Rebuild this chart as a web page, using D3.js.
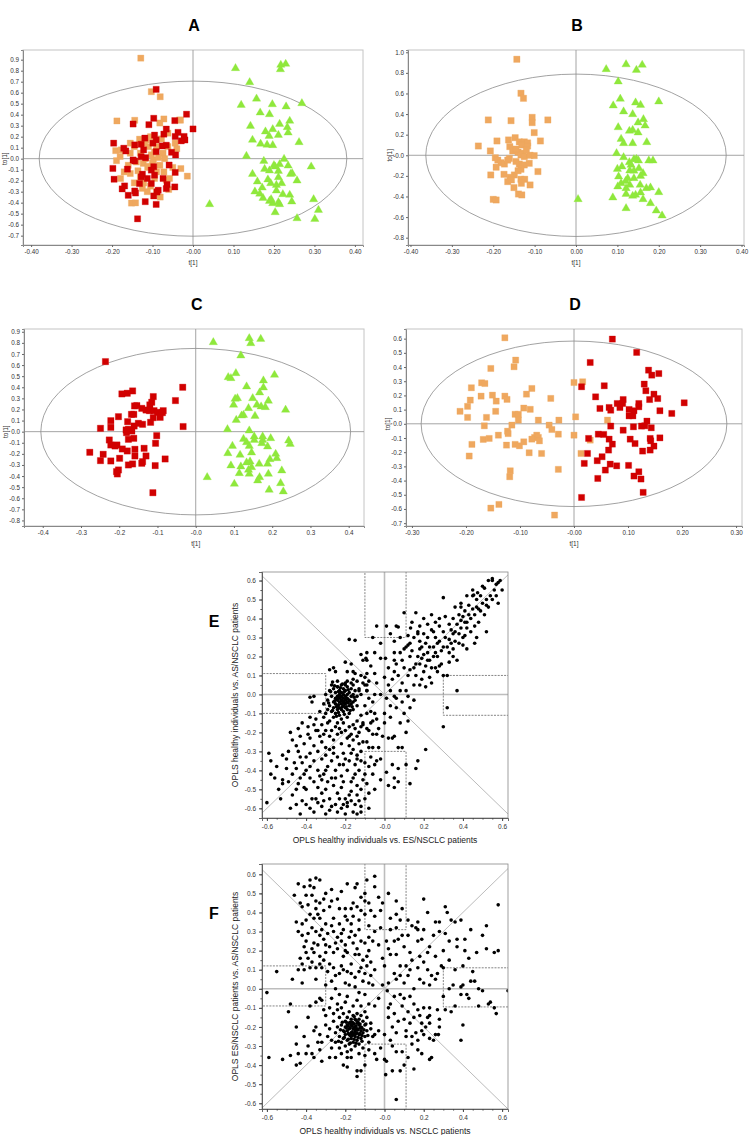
<!DOCTYPE html>
<html><head><meta charset="utf-8">
<script src="https://cdn.jsdelivr.net/npm/d3@7"></script>
<style>body{margin:0;background:#fff;}svg{display:block;font-family:"Liberation Sans",Arial,sans-serif;}</style>
</head><body><svg id="c" width="749" height="1135"></svg>
<script>
// ---------- DATA ----------
const tickAB_x = [-0.4,-0.3,-0.2,-0.1,0,0.1,0.2,0.3,0.4];
const labelA_x = ["-0.40","-0.30","-0.20","-0.10","-0.00","0.10","0.20","0.30","0.40"];
const labelB_x = ["-0.40","-0.30","-0.20","-0.10","0.00","0.10","0.20","0.30","0.40"];
const tickA_y = [0.9,0.8,0.7,0.6,0.5,0.4,0.3,0.2,0.1,0,-0.1,-0.2,-0.3,-0.4,-0.5,-0.6,-0.7];
const labelA_y = ["0.9","0.8","0.7","0.6","0.5","0.4","0.3","0.2","0.1","0.0","-0.1","-0.2","-0.3","-0.4","-0.5","-0.6","-0.7"];
const tickB_y = [1.0,0.8,0.6,0.4,0.2,0,-0.2,-0.4,-0.6,-0.8];
const labelB_y = ["1.0","0.8","0.6","0.4","0.2","-0.0","-0.2","-0.4","-0.6","-0.8"];
const tickC_x = [-0.4,-0.3,-0.2,-0.1,0,0.1,0.2,0.3,0.4];
const labelC_x = ["-0.4","-0.3","-0.2","-0.1","-0.0","0.1","0.2","0.3","0.4"];
const tickC_y = [0.9,0.8,0.7,0.6,0.5,0.4,0.3,0.2,0.1,0,-0.1,-0.2,-0.3,-0.4,-0.5,-0.6,-0.7,-0.8];
const labelC_y = ["0.9","0.8","0.7","0.6","0.5","0.4","0.3","0.2","0.1","0.0","-0.1","-0.2","-0.3","-0.4","-0.5","-0.6","-0.7","-0.8"];
const tickD_x = [-0.3,-0.2,-0.1,0,0.1,0.2,0.3];
const labelD_x = ["-0.30","-0.20","-0.10","-0.00","0.10","0.20","0.30"];
const tickD_y = [0.6,0.5,0.4,0.3,0.2,0.1,0,-0.1,-0.2,-0.3,-0.4,-0.5,-0.6,-0.7];
const labelD_y = ["0.6","0.5","0.4","0.3","0.2","0.1","0.0","-0.1","-0.2","-0.3","-0.4","-0.5","-0.6","-0.7"];
const tickEF_x = [-0.6,-0.4,-0.2,0,0.2,0.4,0.6];
const labelEF_x = ["-0.6","-0.4","-0.2","-0.0","0.2","0.4","0.6"];
const tickEF_y = [0.6,0.5,0.4,0.3,0.2,0.1,0,-0.1,-0.2,-0.3,-0.4,-0.5,-0.6];
const labelEF_y = ["0.6","0.5","0.4","0.3","0.2","0.1","0.0","-0.1","-0.2","-0.3","-0.4","-0.5","-0.6"];
const minorEF = [-0.6,-0.55,-0.5,-0.45,-0.4,-0.35,-0.3,-0.25,-0.2,-0.15,-0.1,-0.05,0,0.05,0.1,0.15,0.2,0.25,0.3,0.35,0.4,0.45,0.5,0.55,0.6];

const aOrange = [[-0.129,0.914],[-0.103,0.609],[-0.081,0.563],[-0.188,0.343],[-0.144,0.349],[-0.072,0.361],[-0.033,0.352],[-0.082,0.324],[-0.031,0.35],[-0.155,0.141],[-0.191,0.073],[-0.177,0.08],[-0.132,0.177],[-0.115,0.171],[-0.11,0.11],[-0.189,-0.018],[-0.179,-0.18],[-0.155,-0.135],[-0.136,-0.11],[-0.123,-0.043],[-0.11,-0.07],[-0.098,-0.01],[-0.082,-0.06],[-0.152,-0.404],[-0.142,-0.402],[-0.081,-0.349],[-0.09,-0.3],[-0.014,-0.159],[-0.044,0.141],[-0.062,0.232],[-0.066,-0.195],[-0.058,-0.18],[-0.122,-0.22],[-0.105,-0.25],[-0.113,-0.3],[-0.09,-0.12],[-0.072,-0.12],[-0.13,0.05],[-0.103,0.035],[-0.09,0.11],[-0.074,0.05],[-0.062,0.11],[-0.14,-0.03],[-0.118,0],[-0.1,-0.04],[-0.085,0.01],[-0.16,-0.06],[-0.17,-0.12],[-0.04,0.09],[-0.05,-0.08],[-0.13,-0.17],[-0.095,-0.18],[-0.06,-0.28],[-0.125,-0.27],[-0.145,-0.22],[-0.105,0.2],[-0.078,0.18],[-0.155,0.05],[-0.145,0.11],[-0.03,-0.09],[-0.112,-0.08],[-0.095,0.06],[-0.12,0.14],[-0.07,0],[-0.18,0.02]];
const aRed = [[-0.091,0.63],[-0.016,0.404],[0.0,0.27],[-0.02,0.17],[-0.097,0.367],[-0.148,0.315],[-0.109,0.309],[-0.045,0.346],[-0.066,0.269],[-0.095,0.214],[-0.072,0.223],[-0.037,0.239],[-0.044,0.202],[-0.022,0.202],[-0.029,0.162],[-0.119,0.187],[-0.196,0.141],[-0.171,0.095],[-0.166,0.07],[-0.144,0.125],[-0.128,0.131],[-0.099,0.141],[-0.091,0.171],[-0.076,0.116],[-0.066,0.122],[-0.122,0.08],[-0.091,0.064],[-0.053,0.058],[-0.043,0.034],[-0.128,0.018],[-0.117,0.009],[-0.148,-0.012],[-0.144,-0.021],[-0.198,-0.089],[-0.162,-0.095],[-0.103,-0.104],[-0.097,-0.073],[-0.059,-0.058],[-0.195,-0.187],[-0.125,-0.141],[-0.128,-0.165],[-0.113,-0.18],[-0.095,-0.15],[-0.074,-0.18],[-0.044,-0.125],[-0.169,-0.248],[-0.175,-0.275],[-0.144,-0.294],[-0.132,-0.226],[-0.103,-0.226],[-0.086,-0.287],[-0.064,-0.235],[-0.066,-0.272],[-0.045,-0.257],[-0.16,-0.333],[-0.142,-0.312],[-0.097,-0.339],[-0.089,-0.303],[-0.118,-0.391],[-0.091,-0.416],[-0.137,-0.547]];
const aGreen = [[0.105,0.822],[0.217,0.852],[0.229,0.861],[0.216,0.812],[0.14,0.694],[0.157,0.545],[0.119,0.488],[0.196,0.494],[0.23,0.473],[0.269,0.503],[0.166,0.418],[0.189,0.403],[0.239,0.343],[0.142,0.297],[0.214,0.315],[0.233,0.285],[0.179,0.246],[0.197,0.267],[0.188,0.206],[0.211,0.215],[0.235,0.236],[0.147,0.17],[0.167,0.134],[0.183,0.125],[0.197,0.122],[0.262,0.149],[0.132,0.024],[0.175,-0.021],[0.225,-0.003],[0.214,-0.051],[0.203,-0.073],[0.235,-0.064],[0.292,-0.073],[0.177,-0.094],[0.189,-0.109],[0.211,-0.112],[0.147,-0.14],[0.211,-0.17],[0.241,-0.14],[0.245,-0.134],[0.257,-0.2],[0.159,-0.209],[0.192,-0.224],[0.206,-0.24],[0.219,-0.224],[0.171,-0.264],[0.153,-0.3],[0.206,-0.291],[0.173,-0.358],[0.222,-0.324],[0.239,-0.33],[0.244,-0.391],[0.189,-0.385],[0.197,-0.406],[0.211,-0.397],[0.214,-0.415],[0.298,-0.37],[0.203,-0.488],[0.31,-0.467],[0.257,-0.543],[0.301,-0.549],[0.041,-0.415],[0.193,-0.37],[0.165,-0.32],[0.2,-0.06],[0.185,-0.19]];

const bOrange = [[-0.143,0.932],[-0.133,0.602],[-0.127,0.553],[-0.212,0.343],[-0.157,0.336],[-0.106,0.368],[-0.106,0.317],[-0.068,0.343],[-0.101,0.22],[-0.236,0.09],[-0.191,0.139],[-0.163,0.149],[-0.147,0.171],[-0.086,0.139],[-0.137,0.13],[-0.125,0.13],[-0.117,0.12],[-0.16,0.084],[-0.131,0.1],[-0.117,0.09],[-0.207,0.042],[-0.153,0.042],[-0.14,0.03],[-0.128,0.02],[-0.195,-0.024],[-0.189,-0.047],[-0.181,-0.072],[-0.173,-0.085],[-0.165,-0.047],[-0.161,-0.031],[-0.133,0.003],[-0.125,-0.013],[-0.111,0.0],[-0.101,-0.003],[-0.193,-0.116],[-0.137,-0.085],[-0.125,-0.094],[-0.113,-0.078],[-0.206,-0.191],[-0.174,-0.185],[-0.092,-0.158],[-0.133,-0.136],[-0.149,-0.191],[-0.159,-0.214],[-0.165,-0.256],[-0.156,-0.239],[-0.133,-0.233],[-0.124,-0.233],[-0.132,-0.272],[-0.15,-0.314],[-0.111,-0.288],[-0.139,-0.376],[-0.131,-0.385],[-0.2,-0.428],[-0.193,-0.434],[-0.145,0.06],[-0.12,0.05],[-0.145,-0.06],[-0.14,-0.15]];
const bGreen = [[0.073,0.835],[0.121,0.882],[0.146,0.828],[0.16,0.877],[0.102,0.715],[0.107,0.547],[0.09,0.482],[0.144,0.511],[0.156,0.488],[0.2,0.521],[0.115,0.424],[0.137,0.398],[0.15,0.317],[0.163,0.349],[0.167,0.287],[0.102,0.271],[0.129,0.236],[0.137,0.245],[0.15,0.22],[0.109,0.158],[0.115,0.116],[0.137,0.116],[0.171,0.126],[0.098,0.019],[0.115,-0.02],[0.129,-0.068],[0.146,-0.036],[0.151,-0.052],[0.176,-0.052],[0.186,-0.052],[0.1,-0.133],[0.111,-0.11],[0.133,-0.094],[0.13,-0.149],[0.152,-0.126],[0.162,-0.175],[0.103,-0.207],[0.125,-0.223],[0.14,-0.223],[0.156,-0.201],[0.109,-0.272],[0.13,-0.288],[0.155,-0.288],[0.101,-0.304],[0.121,-0.32],[0.17,-0.32],[0.18,-0.314],[0.2,-0.359],[0.089,-0.411],[0.121,-0.376],[0.137,-0.395],[0.144,-0.385],[0.156,-0.363],[0.162,-0.427],[0.18,-0.466],[0.121,-0.515],[0.194,-0.538],[0.208,-0.586],[0.005,-0.427],[0.14,-0.04],[0.12,-0.25],[0.14,-0.15]];

const cRed = [[-0.236,0.631],[-0.034,0.4],[-0.033,0.046],[-0.053,0.28],[-0.193,0.34],[-0.179,0.346],[-0.165,0.367],[-0.111,0.316],[-0.115,0.265],[-0.12,0.241],[-0.16,0.232],[-0.154,0.235],[-0.141,0.21],[-0.13,0.195],[-0.121,0.189],[-0.109,0.189],[-0.1,0.174],[-0.085,0.189],[-0.087,0.171],[-0.168,0.156],[-0.162,0.156],[-0.093,0.129],[-0.111,0.126],[-0.202,0.135],[-0.222,0.099],[-0.178,0.09],[-0.118,0.084],[-0.15,0.075],[-0.139,0.066],[-0.161,0.051],[-0.249,0.03],[-0.222,0.039],[-0.182,0.015],[-0.176,0.021],[-0.167,0.006],[-0.181,-0.009],[-0.102,-0.036],[-0.176,-0.069],[-0.162,-0.06],[-0.226,-0.075],[-0.105,-0.105],[-0.222,-0.12],[-0.211,-0.129],[-0.206,-0.12],[-0.192,-0.156],[-0.179,-0.174],[-0.159,-0.159],[-0.135,-0.15],[-0.277,-0.186],[-0.242,-0.204],[-0.199,-0.24],[-0.159,-0.219],[-0.13,-0.219],[-0.08,-0.246],[-0.249,-0.261],[-0.222,-0.264],[-0.176,-0.3],[-0.165,-0.291],[-0.141,-0.285],[-0.139,-0.27],[-0.106,-0.306],[-0.202,-0.345],[-0.205,-0.381],[-0.207,-0.36],[-0.112,-0.55]];
const cGreen = [[0.046,0.805],[0.14,0.841],[0.144,0.796],[0.17,0.835],[0.118,0.685],[0.085,0.49],[0.092,0.481],[0.105,0.526],[0.206,0.511],[0.177,0.46],[0.133,0.406],[0.177,0.397],[0.167,0.352],[0.103,0.295],[0.109,0.301],[0.149,0.301],[0.19,0.277],[0.099,0.241],[0.16,0.241],[0.171,0.226],[0.182,0.22],[0.138,0.211],[0.235,0.196],[0.12,0.144],[0.125,0.15],[0.155,0.141],[0.106,0.105],[0.083,0.021],[0.14,0.009],[0.125,-0.066],[0.153,-0.045],[0.153,-0.075],[0.175,-0.045],[0.175,-0.075],[0.196,-0.06],[0.133,-0.096],[0.14,-0.129],[0.173,-0.105],[0.188,-0.135],[0.243,-0.081],[0.247,-0.111],[0.096,-0.129],[0.084,-0.195],[0.116,-0.21],[0.146,-0.189],[0.209,-0.201],[0.212,-0.24],[0.194,-0.249],[0.133,-0.279],[0.142,-0.27],[0.166,-0.291],[0.188,-0.291],[0.092,-0.306],[0.118,-0.315],[0.146,-0.321],[0.225,-0.351],[0.114,-0.375],[0.14,-0.381],[0.19,-0.381],[0.167,-0.411],[0.162,-0.441],[0.222,-0.465],[0.101,-0.471],[0.03,-0.411],[0.192,-0.525],[0.229,-0.54],[0.138,-0.345]];

const dOrange = [[-0.128,0.606],[-0.108,0.449],[-0.111,0.402],[-0.154,0.39],[-0.171,0.289],[-0.165,0.284],[-0.078,0.249],[-0.19,0.254],[-0.088,0.209],[-0.172,0.195],[-0.151,0.202],[-0.128,0.195],[-0.144,0.16],[-0.124,0.172],[-0.192,0.167],[-0.043,0.179],[-0.211,0.088],[-0.197,0.123],[-0.145,0.088],[-0.093,0.111],[-0.081,0.102],[-0.109,0.067],[-0.103,0.067],[-0.197,0.045],[-0.162,0.045],[-0.103,0.026],[-0.066,0.026],[-0.028,0.026],[-0.166,-0.014],[-0.115,-0.009],[-0.046,-0.009],[-0.041,-0.04],[-0.123,-0.052],[-0.122,-0.069],[-0.029,-0.073],[-0.168,-0.11],[-0.157,-0.103],[-0.14,-0.08],[-0.069,-0.08],[-0.073,-0.096],[-0.066,-0.096],[-0.078,-0.108],[-0.064,-0.12],[-0.189,-0.145],[-0.125,-0.15],[-0.109,-0.145],[-0.101,-0.155],[-0.093,-0.127],[-0.194,-0.227],[-0.083,-0.204],[-0.06,-0.209],[-0.118,-0.331],[-0.029,-0.321],[-0.119,-0.373],[-0.154,-0.594],[-0.139,-0.568],[-0.036,-0.643],[0.0,0.291],[0.016,0.296],[0.003,0.049],[0.062,0.026],[0.0,-0.08],[0.03,-0.115],[0.013,-0.209]];
const dRed = [[0.071,0.597],[0.116,0.503],[0.03,0.432],[0.138,0.378],[0.144,0.343],[0.157,0.354],[0.014,0.261],[0.056,0.268],[0.13,0.28],[0.133,0.233],[0.148,0.209],[0.155,0.178],[0.14,0.171],[0.04,0.19],[0.204,0.148],[0.08,0.143],[0.085,0.115],[0.091,0.171],[0.09,0.143],[0.12,0.143],[0.12,0.12],[0.048,0.108],[0.065,0.115],[0.068,0.096],[0.102,0.101],[0.111,0.092],[0.159,0.092],[0.181,0.073],[0.102,0.056],[0.109,0.056],[0.135,0.019],[0.125,-0.016],[0.131,-0.014],[0.143,-0.028],[0.068,-0.016],[0.11,-0.021],[0.091,-0.045],[0.045,-0.073],[0.055,-0.075],[0.027,-0.103],[0.065,-0.108],[0.104,-0.108],[0.141,-0.103],[0.159,-0.099],[0.142,-0.12],[0.113,-0.139],[0.071,-0.143],[0.148,-0.157],[0.064,-0.185],[0.141,-0.185],[0.127,-0.192],[0.025,-0.209],[0.052,-0.232],[0.043,-0.26],[0.019,-0.279],[0.067,-0.284],[0.079,-0.296],[0.101,-0.293],[0.058,-0.326],[0.12,-0.338],[0.111,-0.368],[0.124,-0.389],[0.044,-0.385],[0.128,-0.483],[0.014,-0.519]];

const ePoints = [
[-0.30,0.00],[-0.29,-0.03],[-0.28,0.02],[-0.28,-0.06],[-0.27,-0.01],[-0.27,-0.09],[-0.26,0.03],[-0.26,-0.04],[-0.26,-0.07],[-0.25,0.01],[-0.25,-0.02],[-0.25,-0.05],[-0.25,-0.10],[-0.24,0.04],[-0.24,-0.01],[-0.24,-0.03],[-0.24,-0.06],[-0.24,-0.08],[-0.23,0.02],[-0.23,0.00],[-0.23,-0.02],[-0.23,-0.04],[-0.23,-0.07],[-0.23,-0.11],[-0.22,0.05],[-0.22,0.01],[-0.22,-0.01],[-0.22,-0.03],[-0.22,-0.05],[-0.22,-0.08],[-0.21,0.03],[-0.21,0.00],[-0.21,-0.02],[-0.21,-0.04],[-0.21,-0.06],[-0.21,-0.09],[-0.20,0.02],[-0.20,-0.01],[-0.20,-0.03],[-0.20,-0.05],[-0.20,-0.07],[-0.19,0.04],[-0.19,0.00],[-0.19,-0.02],[-0.19,-0.04],[-0.19,-0.08],[-0.18,0.01],[-0.18,-0.03],[-0.18,-0.06],[-0.18,-0.10],[-0.17,0.03],[-0.17,-0.01],[-0.17,-0.05],[-0.16,0.00],[-0.16,-0.04],[-0.16,-0.08],[-0.15,0.02],[-0.15,-0.03],[-0.14,-0.01],[-0.14,-0.06],[-0.27,0.05],[-0.29,-0.08],[-0.31,-0.05],[-0.26,-0.12],[-0.22,-0.13],[-0.19,-0.12],[-0.24,0.07],[-0.20,0.06],[-0.17,0.06],[-0.13,0.02],[-0.215,-0.035],[-0.225,-0.015],[-0.205,-0.045],[-0.235,-0.055],[-0.195,-0.025],[-0.245,-0.025],[-0.215,-0.065],[-0.185,-0.045],[-0.255,-0.035],[-0.235,0.015],
[-0.285,-0.045],[-0.275,0.015],[-0.265,-0.085],[-0.255,0.045],[-0.245,-0.065],[-0.235,-0.095],[-0.225,0.035],[-0.205,0.015],[-0.195,-0.065],[-0.185,0.025],[-0.175,-0.035],[-0.165,-0.065],[-0.155,-0.015],[-0.175,-0.085],[-0.205,-0.105],[-0.245,-0.115],[-0.215,0.055],[-0.265,0.065],[-0.30,-0.10],[-0.16,0.05],
[-0.14,-0.14],[-0.13,-0.20],[-0.12,-0.11],[-0.11,-0.25],[-0.12,-0.30],[-0.10,-0.06],[-0.09,-0.18],[-0.08,-0.28],[-0.07,-0.09],[-0.06,-0.21],[-0.15,-0.18],[-0.13,-0.26],[-0.14,-0.34],[-0.10,-0.36],[-0.07,-0.15],[-0.06,-0.04],[-0.05,-0.10],[-0.09,0.05],[-0.12,0.00],[-0.08,-0.02],[-0.11,-0.16],[-0.16,-0.16],[-0.17,-0.21],[-0.18,-0.17],[-0.20,-0.19],[-0.21,-0.15],[-0.23,-0.18],[-0.25,-0.17],[-0.26,-0.24],[-0.30,-0.19],[-0.31,-0.12],[-0.33,-0.09],[-0.32,-0.16],[-0.35,-0.19],
[-0.18,0.29],[-0.15,0.285],[-0.12,0.21],[-0.09,0.22],[-0.11,0.18],[-0.095,0.19],[-0.20,0.17],[-0.17,0.16],[-0.25,0.12],[-0.26,0.14],[-0.28,0.13],[-0.19,0.12],[-0.16,0.12],[-0.15,0.11],[-0.12,0.10],[-0.09,0.11],[-0.08,0.07],[-0.14,0.07],[-0.11,0.06],[-0.16,0.08],[-0.19,0.07],[-0.20,0.05],[-0.24,0.04],[-0.13,0.03],[-0.09,0.02],
[-0.38,-0.015],[-0.36,-0.01],[-0.37,-0.04],
[-0.38,-0.12],[-0.35,-0.13],[-0.39,-0.17],[-0.29,-0.15],[-0.28,-0.14],[-0.24,-0.15],[-0.48,-0.20],[-0.43,-0.22],[-0.39,-0.21],[-0.38,-0.23],[-0.34,-0.19],[-0.32,-0.25],[-0.28,-0.22],[-0.24,-0.21],[-0.22,-0.26],[-0.19,-0.23],[-0.16,-0.24],[-0.47,-0.24],[-0.44,-0.30],[-0.40,-0.33],[-0.38,-0.31],[-0.34,-0.30],[-0.32,-0.34],[-0.28,-0.29],[-0.24,-0.33],[-0.21,-0.31],[-0.16,-0.29],[-0.14,-0.32],[-0.59,-0.31],[-0.58,-0.35],[-0.52,-0.32],[-0.49,-0.30],[-0.50,-0.39],[-0.45,-0.39],[-0.42,-0.36],[-0.38,-0.38],[-0.34,-0.40],[-0.31,-0.42],[-0.29,-0.38],[-0.25,-0.40],[-0.22,-0.43],[-0.19,-0.40],[-0.15,-0.42],[-0.52,-0.45],[-0.52,-0.47],[-0.45,-0.50],[-0.43,-0.44],[-0.41,-0.42],[-0.40,-0.50],[-0.36,-0.46],[-0.34,-0.49],[-0.32,-0.45],[-0.30,-0.50],[-0.26,-0.48],[-0.24,-0.52],[-0.22,-0.49],[-0.20,-0.55],[-0.19,-0.57],[-0.17,-0.51],[-0.14,-0.53],[-0.12,-0.50],[-0.60,-0.57],[-0.43,-0.63],[-0.36,-0.62],[-0.32,-0.59],[-0.31,-0.56],[-0.28,-0.61],[-0.25,-0.58],[-0.24,-0.62],[-0.21,-0.58],[-0.19,-0.59],[-0.16,-0.62],[-0.15,-0.58],[-0.14,-0.63],[-0.12,-0.59],[-0.37,-0.55],[-0.40,-0.58],[-0.32,-0.52],[-0.45,-0.58],
[-0.27,-0.35],[-0.23,-0.37],[-0.18,-0.35],[-0.13,-0.40],[-0.11,-0.45],[-0.17,-0.46],[-0.27,-0.44],[-0.35,-0.55],[-0.28,-0.55],[-0.23,-0.55],[-0.18,-0.53],[-0.10,-0.55],[-0.12,-0.62],[-0.20,-0.63],[-0.30,-0.63],[-0.55,-0.38],[-0.47,-0.42],[-0.44,-0.47],[-0.36,-0.27],[-0.30,-0.28],[-0.26,-0.28],[-0.18,-0.27],[-0.45,-0.27],[-0.41,-0.26],[-0.33,-0.22],[-0.41,-0.49],[-0.47,-0.53],[-0.56,-0.44],
[-0.42,-0.15],[-0.44,-0.18],[-0.36,-0.16],[-0.31,-0.21],[-0.27,-0.19],[-0.22,-0.20],[-0.18,-0.22],[-0.14,-0.22],[-0.12,-0.17],[-0.09,-0.25],[-0.06,-0.28],[-0.03,-0.18],[0.00,-0.15],[0.03,-0.12],[0.08,-0.15],[0.11,-0.20],[0.12,-0.14],[-0.50,-0.34],[-0.46,-0.36],[-0.43,-0.33],[-0.36,-0.35],[-0.30,-0.32],[-0.26,-0.31],[-0.20,-0.34],[-0.17,-0.31],[-0.12,-0.35],[-0.08,-0.38],[-0.06,-0.42],[-0.02,-0.45],[0.02,-0.48],[-0.54,-0.50],[-0.49,-0.46],[-0.38,-0.44],[-0.33,-0.43],[-0.29,-0.46],[-0.25,-0.44],[-0.21,-0.46],[-0.16,-0.44],[-0.14,-0.48],[-0.08,-0.52],[-0.05,-0.50],[-0.48,-0.60],[-0.42,-0.56],[-0.38,-0.60],[-0.34,-0.57],[-0.27,-0.59],[-0.22,-0.60],[-0.17,-0.56],[-0.13,-0.56],[-0.08,-0.60],[-0.53,-0.55],[-0.58,-0.42],[-0.40,-0.40],[-0.30,-0.40],[-0.21,-0.37],[-0.15,-0.37],
[0.30,0.51],[0.39,0.46],[0.40,0.41],[0.42,0.38],[0.46,0.36],[0.47,0.30],[0.52,0.33],[0.37,0.37],[0.39,0.39],[0.35,0.32],[0.33,0.29],[0.34,0.27],[0.32,0.25],[0.29,0.23],[0.27,0.27],[0.25,0.20],[0.28,0.15],[0.26,0.14],[0.24,0.14],[0.22,0.18],[0.20,0.21],[0.18,0.24],[0.17,0.33],[0.16,0.43],[0.10,0.43],[0.30,0.10],[0.37,0.02],[0.32,-0.07],[0.30,-0.17],[0.21,-0.29],[0.17,-0.35],[0.16,-0.39],[0.13,-0.47],[0.11,-0.37],
[0.01,0.36],[0.06,0.36],[0.07,0.355],[-0.04,0.36],[0.133,0.35],[0.17,0.32],[0.13,0.27],[0.10,0.24],[0.05,0.22],[0.005,0.19],[-0.02,0.19],[-0.05,0.22],[-0.09,0.18],[0.06,0.16],[0.09,0.18],[0.05,0.12],[0.13,0.13],[0.16,0.10],[0.24,0.06],[0.21,0.04],[0.18,0.05],[0.11,0.02],[0.08,0.02],[0.05,-0.01],[0.01,-0.02],[-0.02,0.00],[-0.05,0.00],[-0.09,0.02],[-0.10,0.05],[-0.10,0.09],[-0.05,0.11],[0.00,0.09],[0.15,-0.03],[0.13,-0.07],[0.10,-0.10],[0.06,-0.07],[0.03,-0.06],[0.00,-0.10],[-0.04,-0.13],[-0.06,-0.14],[-0.09,-0.10],[-0.11,-0.15],[-0.08,-0.19],[-0.04,-0.21],[-0.01,-0.22],[0.02,-0.23],[0.04,-0.23],[0.05,-0.22],[0.07,-0.28],[0.09,-0.28],[-0.03,-0.28],[-0.07,-0.33],[-0.05,-0.37],[-0.04,-0.35],[-0.02,-0.34],[0.04,-0.37],[0.07,-0.39],[0.01,-0.41],[0.05,-0.44],[0.07,-0.46],[0.05,-0.49],[-0.10,-0.42],[-0.09,-0.47],
[0.05,0.28],[0.08,0.30],[0.12,0.26],[0.15,0.30],[0.18,0.28],[0.20,0.32],[0.22,0.30],[0.24,0.34],[0.26,0.30],[0.28,0.36],[0.30,0.33],[0.25,0.25],[0.22,0.22],[0.19,0.19],[0.16,0.16],[0.13,0.20],[0.10,0.14],[0.07,0.10],[0.04,0.08],[0.02,0.05],[0.20,0.12],[0.23,0.18],[0.27,0.20],[0.30,0.25],[0.33,0.22],[0.36,0.28],[0.38,0.32],[0.40,0.30],[0.42,0.35],[0.44,0.40],[0.46,0.42],[0.48,0.45],[0.50,0.48],[0.52,0.50],[0.54,0.52],[0.56,0.55],[0.57,0.58],[0.59,0.60],[0.55,0.60],[0.51,0.56],[0.49,0.52],[0.47,0.50],[0.43,0.47],[0.41,0.44],[0.38,0.42],[0.35,0.40],[0.33,0.37],[0.31,0.41],[0.28,0.40],[0.26,0.38],[0.24,0.42],[0.20,0.40],[0.36,0.46],[0.42,0.52],[0.45,0.55],[0.39,0.48],[0.48,0.38],[0.51,0.42],[0.53,0.46],[0.58,0.48],[0.60,0.55],[0.44,0.33],[0.40,0.26],[0.35,0.20],[0.46,0.27],[0.29,0.16],[0.32,0.10],[0.37,0.18],[0.42,0.24],
[0.53,0.60],[0.55,0.61],[0.50,0.57],[0.58,0.59],[0.45,0.52],[0.475,0.536],[0.455,0.524],
[0.02,0.14],[0.05,0.18],[0.08,0.22],[0.11,0.25],[0.14,0.23],[0.17,0.20],[0.19,0.25],[0.21,0.27],[0.23,0.25],[0.26,0.22],[0.28,0.28],[0.31,0.30],[0.34,0.34],[0.36,0.33],[0.39,0.35],[0.41,0.38],[0.43,0.42],[0.45,0.45],[0.47,0.46],[0.49,0.44],[0.52,0.47],[0.55,0.50],[0.57,0.52],[0.35,0.24],[0.38,0.27],[0.41,0.31],[0.33,0.17],[0.27,0.12],[0.23,0.09],[0.19,0.08],[0.15,0.05],[0.12,0.10],[0.09,0.06],[0.15,0.14],[0.18,0.16],[0.21,0.15],[0.12,0.31],[0.14,0.38],[0.18,0.36],[0.22,0.37],[0.25,0.33],[0.03,0.32],[-0.02,0.27],[-0.06,0.30],[-0.07,0.15],[-0.04,0.06],[0.03,0.02],[0.06,-0.02],[0.09,-0.04],[0.12,-0.01]
];

const fPoints = [
[-0.24,-0.20],[-0.23,-0.15],[-0.23,-0.25],[-0.22,-0.19],[-0.22,-0.28],[-0.21,-0.13],[-0.21,-0.22],[-0.21,-0.26],[-0.20,-0.17],[-0.20,-0.20],[-0.20,-0.24],[-0.20,-0.30],[-0.19,-0.15],[-0.19,-0.19],[-0.19,-0.22],[-0.19,-0.27],[-0.18,-0.12],[-0.18,-0.18],[-0.18,-0.21],[-0.18,-0.24],[-0.18,-0.29],[-0.17,-0.16],[-0.17,-0.19],[-0.17,-0.23],[-0.17,-0.26],[-0.17,-0.32],[-0.16,-0.14],[-0.16,-0.18],[-0.16,-0.21],[-0.16,-0.24],[-0.16,-0.28],[-0.15,-0.16],[-0.15,-0.20],[-0.15,-0.22],[-0.15,-0.25],[-0.15,-0.30],[-0.14,-0.13],[-0.14,-0.18],[-0.14,-0.21],[-0.14,-0.23],[-0.14,-0.27],[-0.13,-0.16],[-0.13,-0.19],[-0.13,-0.24],[-0.13,-0.29],[-0.12,-0.14],[-0.12,-0.20],[-0.12,-0.22],[-0.12,-0.26],[-0.11,-0.17],[-0.11,-0.23],[-0.11,-0.31],[-0.10,-0.19],[-0.10,-0.25],[-0.09,-0.15],[-0.09,-0.22],[-0.08,-0.28],[-0.25,-0.23],[-0.26,-0.17],[-0.27,-0.27],[-0.155,-0.205],[-0.165,-0.225],[-0.145,-0.235],[-0.175,-0.205],[-0.135,-0.215],[-0.155,-0.185],[-0.165,-0.245],[-0.145,-0.195],[-0.185,-0.235],[-0.125,-0.235],[-0.175,-0.175],[-0.135,-0.255],[-0.195,-0.205],[-0.155,-0.265],[-0.115,-0.205],[-0.205,-0.225],[-0.145,-0.165],[-0.165,-0.195],[-0.185,-0.265],[-0.125,-0.185],[-0.19,-0.33],[-0.13,-0.34],[-0.22,-0.34],[-0.10,-0.12],[-0.24,-0.11],[-0.28,-0.21],[-0.07,-0.18],[-0.06,-0.25],
[-0.215,-0.175],[-0.205,-0.255],[-0.195,-0.175],[-0.185,-0.195],[-0.175,-0.245],[-0.165,-0.175],[-0.155,-0.235],[-0.145,-0.215],[-0.135,-0.175],[-0.125,-0.205],[-0.115,-0.245],[-0.105,-0.215],[-0.175,-0.285],[-0.145,-0.285],[-0.115,-0.275],[-0.225,-0.215],[-0.235,-0.275],[-0.095,-0.185],[-0.085,-0.245],[-0.155,-0.145],
[-0.44,0.55],[-0.41,0.535],[-0.38,0.54],[-0.36,0.53],[-0.35,0.58],[-0.33,0.57],[-0.38,0.57],[-0.46,0.49],[-0.40,0.49],[-0.37,0.49],[-0.35,0.46],[-0.33,0.45],[-0.42,0.43],[-0.31,0.41],[-0.28,0.43],[-0.24,0.47],[-0.19,0.55],[-0.15,0.53],[-0.14,0.55],[-0.12,0.48],[-0.16,0.45],[-0.14,0.43],[-0.10,0.46],[-0.38,0.39],[-0.34,0.39],[-0.33,0.37],[-0.36,0.37],[-0.45,0.35],[-0.42,0.34],[-0.40,0.36],[-0.30,0.34],[-0.26,0.37],[-0.23,0.34],[-0.19,0.36],[-0.17,0.34],[-0.13,0.36],[-0.10,0.39],[-0.42,0.28],[-0.40,0.25],[-0.39,0.29],[-0.35,0.30],[-0.33,0.28],[-0.31,0.26],[-0.29,0.29],[-0.24,0.27],[-0.22,0.25],[-0.18,0.27],[-0.15,0.28],[-0.12,0.25],[-0.10,0.24],[-0.43,0.16],[-0.40,0.19],[-0.39,0.16],[-0.36,0.19],[-0.33,0.17],[-0.30,0.19],[-0.26,0.19],[-0.24,0.21],[-0.21,0.17],[-0.19,0.19],[-0.15,0.18],[-0.11,0.15],[-0.09,0.17],[-0.44,0.10],[-0.41,0.10],[-0.38,0.11],[-0.35,0.11],[-0.32,0.11],[-0.28,0.13],[-0.25,0.07],[-0.23,0.08],[-0.19,0.09],[-0.15,0.06],[-0.12,0.11],[-0.10,0.08],[-0.55,0.09],[-0.60,-0.02],[-0.48,-0.08],[-0.49,-0.12],[-0.45,-0.20],[-0.39,-0.15],[-0.38,-0.09],[-0.33,-0.05],[-0.32,-0.06],[-0.23,-0.03],[-0.28,-0.10],[-0.26,-0.13],[-0.24,-0.08],[-0.33,-0.24],[-0.34,-0.28],[-0.30,-0.19],[-0.39,-0.30],[-0.44,-0.34],[-0.40,-0.34],[-0.37,-0.34],[-0.33,-0.32],[-0.36,-0.36],[-0.45,-0.40],[-0.59,-0.36],[-0.21,-0.40],[-0.19,-0.41],[-0.14,-0.43],[-0.14,-0.46],[-0.12,-0.43],[-0.19,-0.36],
[-0.30,0.50],[-0.27,0.52],[-0.22,0.51],[-0.20,0.42],[-0.26,0.30],[-0.21,0.31],[-0.16,0.38],[-0.28,0.22],[-0.20,0.23],[-0.14,0.21],[-0.36,0.24],[-0.31,0.15],[-0.17,0.13],[-0.22,0.12],[-0.27,0.04],[-0.18,0.02],[-0.13,-0.02],[-0.08,0.03],[-0.20,-0.07],[-0.16,-0.09],[-0.30,-0.14],[-0.05,-0.09],[-0.35,-0.20],[-0.25,-0.36],
[-0.43,0.45],[-0.39,0.44],[-0.35,0.42],[-0.31,0.47],[-0.27,0.46],[-0.23,0.42],[-0.20,0.38],[-0.17,0.42],[-0.12,0.41],[-0.08,0.45],[-0.44,0.30],[-0.37,0.32],[-0.32,0.31],[-0.27,0.33],[-0.22,0.29],[-0.17,0.30],[-0.13,0.31],[-0.08,0.33],[-0.41,0.22],[-0.37,0.21],[-0.34,0.23],[-0.30,0.23],[-0.25,0.24],[-0.20,0.20],[-0.16,0.24],[-0.13,0.18],[-0.08,0.20],[-0.42,0.13],[-0.37,0.14],[-0.33,0.13],[-0.29,0.09],[-0.26,0.11],[-0.21,0.10],[-0.17,0.08],[-0.13,0.09],[-0.07,0.07],[-0.47,0.05],[-0.42,0.03],[-0.35,0.05],[-0.30,0.02],[-0.25,0.00],[-0.20,0.03],[-0.15,0.01],[-0.11,0.04],[-0.06,0.02],[-0.35,-0.07],[-0.31,-0.11],[-0.27,-0.05],[-0.22,-0.10],[-0.19,-0.04],[-0.14,-0.06],[-0.10,-0.03],[-0.12,-0.09],[-0.08,-0.08],[-0.45,-0.29],[-0.41,-0.25],[-0.36,-0.22],[-0.32,-0.28],[-0.29,-0.25],[-0.27,-0.31],[-0.25,-0.28],[-0.48,-0.35],[-0.52,-0.37],[-0.43,-0.39],[-0.32,-0.38],[-0.28,-0.36],[-0.23,-0.31],[-0.17,-0.36],[-0.10,-0.35],[-0.08,-0.32],
[-0.05,0.535],[-0.10,0.50],[-0.01,0.45],[0.06,0.46],[0.20,0.47],[0.31,0.43],[0.32,0.40],[0.36,0.35],[0.39,0.36],[0.34,0.36],[0.52,0.33],[0.58,0.44],[0.31,0.29],[0.33,0.25],[0.37,0.26],[0.41,0.26],[0.37,0.22],[0.41,0.20],[0.47,0.19],[0.52,0.21],[0.56,0.19],[0.58,0.20],[0.29,0.12],[0.30,0.11],[0.44,0.04],[0.40,0.02],[0.39,0.01],[0.46,0.04],[0.48,0.00],[0.50,-0.01],[0.33,0.00],[0.35,0.02],[0.39,-0.03],[0.43,-0.05],[0.48,-0.09],[0.53,-0.08],[0.54,-0.07],[0.56,-0.10],[0.57,-0.13],[0.36,-0.09],[0.63,-0.01],[0.40,-0.19],[0.39,-0.27],[0.23,-0.26],[0.25,-0.27],[0.26,-0.24],[0.275,-0.24],[0.28,-0.20],[0.23,-0.18],[0.21,-0.20],[0.19,-0.22],[0.16,-0.23],[0.17,-0.32],[0.19,-0.34],[0.23,-0.37],[0.24,-0.36],[0.09,-0.33],[0.08,-0.43],[0.04,-0.43],[0.006,-0.45],[0.06,-0.58],[-0.10,-0.40],[-0.05,-0.34],[-0.04,-0.37],[0.00,-0.37],[0.01,-0.38],[0.06,-0.23],[0.04,-0.20],[0.00,-0.24],[-0.03,-0.22],[-0.05,-0.24],[-0.07,-0.21],[0.10,-0.16],[0.13,-0.18],[0.19,-0.18],[0.22,-0.15],[0.23,-0.14],[0.28,-0.16],[0.17,-0.11],[0.15,-0.08],[0.23,-0.10],[0.27,-0.11],[0.13,-0.04],[0.08,-0.03],[0.05,-0.04],[0.014,-0.01],[-0.01,0.02],[0.02,0.03],[0.06,0.05],[0.12,0.07],[0.13,0.10],[0.17,0.11],[0.22,0.10],[0.24,0.07],[0.27,0.08],[0.18,0.05],[0.23,0.02],[0.10,0.03],[-0.05,0.10],[-0.09,0.12],[-0.07,0.14],[-0.01,0.16],[0.03,0.18],[0.06,0.18],[0.10,0.22],[0.13,0.19],[0.18,0.17],[0.22,0.19],[0.23,0.22],[0.17,0.25],[0.19,0.26],[0.17,0.31],[0.20,0.31],[0.16,0.32],[0.09,0.28],[0.05,0.25],[0.01,0.25],[-0.03,0.23],[-0.06,0.25],[-0.08,0.27],[-0.05,0.30],[-0.02,0.32],[0.03,0.31],[0.06,0.32],[0.08,0.36],[0.12,0.36],[0.17,0.35],[0.06,0.39],[-0.05,0.38],[-0.07,0.41],[-0.02,0.41],[-0.09,0.57],[-0.05,0.59],
[0.31,-0.11],[0.34,-0.12],[0.42,-0.03],[0.45,0.09],[0.50,0.28],[0.44,0.31],[0.28,0.30],[0.26,0.35],[0.11,0.12],[0.08,0.07],[0.03,-0.08],[-0.03,-0.05],[0.02,-0.15],[0.11,-0.25],[0.14,-0.29],[0.04,-0.30],[-0.02,-0.31],[0.10,-0.40],
[0.02,-0.10],[0.05,-0.13],[0.09,-0.09],[0.12,-0.12],[0.15,-0.15],[0.18,-0.14],[0.20,-0.10],[0.11,-0.22],[0.14,-0.25],[0.17,-0.27],[0.20,-0.24],[0.07,-0.17],[0.03,-0.27],[0.06,-0.33],[0.12,-0.36],[0.15,-0.42],[0.08,0.12],[0.14,0.15],[0.20,0.14],[0.26,0.17],[0.30,0.20],[0.33,0.15],[0.36,0.10],[0.40,0.12],[0.43,0.16],[0.26,0.05],[0.30,-0.04],[0.20,0.03],[0.15,0.00],[0.10,-0.05],[0.05,0.08],[0.00,0.12],[0.02,0.21],[0.07,0.26],[0.12,0.28],[0.14,0.33],[0.25,0.28],[0.28,0.35],[0.22,0.40],[0.03,0.37],[0.09,0.42],[-0.03,0.48],[0.02,0.50]
];

// reference annotations for E and F (dashed boxes, data units)
const eBoxes = [[-0.10,0.11,0.30,0.70],[-0.10,0.11,-0.70,-0.30],[-0.70,-0.30,-0.10,0.11],[0.30,0.70,-0.11,0.10]];
const fBoxes = [[-0.10,0.11,0.31,0.70],[-0.10,0.11,-0.70,-0.29],[-0.70,-0.30,-0.09,0.12],[0.30,0.70,-0.095,0.11]];

// ---------- DRAWING ----------
const svg = d3.select("#c");
const RED="#d10000", ORANGE="#efa85f", GREEN="#8fe83c";

function pcaPanel(o){
  const x = d3.scaleLinear().domain(o.xDomain).range([o.left,o.right]);
  const y = d3.scaleLinear().domain(o.yDomain).range([o.bottom,o.top]);
  const g = svg.append("g");
  g.append("rect").attr("x",o.left).attr("y",o.top).attr("width",o.right-o.left).attr("height",o.bottom-o.top)
    .attr("fill","none").attr("stroke","#c4c4c4").attr("stroke-width",1);
  g.append("line").attr("x1",x(0)).attr("x2",x(0)).attr("y1",o.top).attr("y2",o.bottom).attr("stroke","#9a9a9a").attr("stroke-width",0.9);
  g.append("line").attr("x1",o.left).attr("x2",o.right).attr("y1",y(0)).attr("y2",y(0)).attr("stroke","#9a9a9a").attr("stroke-width",0.9);
  g.append("ellipse").attr("cx",x(0)).attr("cy",y(0)).attr("rx",x(o.ell[0])-x(0)).attr("ry",y(0)-y(o.ell[1]))
    .attr("fill","none").attr("stroke","#8a8a8a").attr("stroke-width",0.8);
  const ax = g.append("g").attr("transform",`translate(0,${o.bottom})`)
    .call(d3.axisBottom(x).tickValues(o.xTicks).tickFormat((d,i)=>o.xLabels[i]).tickSize(2).tickPadding(3));
  const ay = g.append("g").attr("transform",`translate(${o.left},0)`)
    .call(d3.axisLeft(y).tickValues(o.yTicks).tickFormat((d,i)=>o.yLabels[i]).tickSize(2).tickPadding(2));
  [ax,ay].forEach(a=>{
    a.select(".domain").attr("stroke","#888");
    a.selectAll(".tick line").attr("stroke","#666");
    a.selectAll("text").attr("font-size","6.3px").attr("fill","#333").attr("font-family","Liberation Sans, Arial, sans-serif");
  });
  g.append("text").attr("x",x(0)).attr("y",o.bottom+20).attr("text-anchor","middle").attr("font-size","6.5px").attr("fill","#333").text("t[1]");
  g.append("text").attr("transform",`translate(${o.left-16},${y(0)}) rotate(-90)`).attr("text-anchor","middle").attr("font-size","6.5px").attr("fill","#333").text("to[1]");
  g.append("text").attr("x",x(0)+1).attr("y",o.top-19).attr("text-anchor","middle").attr("font-size","16px").attr("font-weight","bold").text(o.letter);
  o.series.forEach(s=>{
    const sym = d3.symbol().type(s.shape==="tri"?d3.symbolTriangle:d3.symbolSquare).size(s.size);
    g.append("g").selectAll("path").data(s.data).join("path")
      .attr("transform",d=>`translate(${x(d[0])},${y(d[1])})`)
      .attr("d",sym).attr("fill",s.color).attr("stroke",s.color).attr("stroke-opacity",0.5).attr("stroke-width",0.6);
  });
}

pcaPanel({letter:"A",left:23,right:363,top:50,bottom:245,xDomain:[-0.42,0.42],yDomain:[-0.785,0.988],ell:[0.38,0.705],
  xTicks:tickAB_x,xLabels:labelA_x,yTicks:tickA_y,yLabels:labelA_y,
  series:[{data:aOrange,color:ORANGE,shape:"sq",size:38},{data:aRed,color:RED,shape:"sq",size:38},{data:aGreen,color:GREEN,shape:"tri",size:30}]});
pcaPanel({letter:"B",left:408,right:744,top:50,bottom:245,xDomain:[-0.406,0.406],yDomain:[-0.871,1.022],ell:[0.363,0.788],
  xTicks:tickAB_x,xLabels:labelB_x,yTicks:tickB_y,yLabels:labelB_y,
  series:[{data:bOrange,color:ORANGE,shape:"sq",size:40},{data:bGreen,color:GREEN,shape:"tri",size:30}]});
pcaPanel({letter:"C",left:24,right:364,top:329,bottom:526,xDomain:[-0.449,0.44],yDomain:[-0.85,0.925],ell:[0.405,0.75],
  xTicks:tickC_x,xLabels:labelC_x,yTicks:tickC_y,yLabels:labelC_y,
  series:[{data:cRed,color:RED,shape:"sq",size:40},{data:cGreen,color:GREEN,shape:"tri",size:30}]});
pcaPanel({letter:"D",left:406,right:742,top:329,bottom:526,xDomain:[-0.311,0.311],yDomain:[-0.72,0.668],ell:[0.283,0.583],
  xTicks:tickD_x,xLabels:labelD_x,yTicks:tickD_y,yLabels:labelD_y,
  series:[{data:dOrange,color:ORANGE,shape:"sq",size:38},{data:dRed,color:RED,shape:"sq",size:38}]});

function splotPanel(o){
  const x = d3.scaleLinear().domain(o.xDomain).range([o.left,o.right]);
  const y = d3.scaleLinear().domain(o.yDomain).range([o.bottom,o.top]);
  const g = svg.append("g");
  const cid = "clip"+o.letter;
  g.append("clipPath").attr("id",cid).append("rect").attr("x",o.left).attr("y",o.top).attr("width",o.right-o.left).attr("height",o.bottom-o.top);
  const inner = g.append("g").attr("clip-path",`url(#${cid})`);
  inner.append("line").attr("x1",x(-1)).attr("y1",y(-1)).attr("x2",x(1)).attr("y2",y(1)).attr("stroke","#aaa").attr("stroke-width",0.8);
  inner.append("line").attr("x1",x(-1)).attr("y1",y(1)).attr("x2",x(1)).attr("y2",y(-1)).attr("stroke","#aaa").attr("stroke-width",0.8);
  inner.append("line").attr("x1",x(0)).attr("x2",x(0)).attr("y1",o.top).attr("y2",o.bottom).attr("stroke","#bdbdbd").attr("stroke-width",1.6);
  inner.append("line").attr("x1",o.left).attr("x2",o.right).attr("y1",y(0)).attr("y2",y(0)).attr("stroke","#bdbdbd").attr("stroke-width",1.6);
  inner.selectAll("rect.box").data(o.boxes).join("rect").attr("class","box")
    .attr("x",d=>x(d[0])).attr("y",d=>y(d[3])).attr("width",d=>x(d[1])-x(d[0])).attr("height",d=>y(d[2])-y(d[3]))
    .attr("fill","none").attr("stroke","#666").attr("stroke-width",0.8).attr("stroke-dasharray","2,1.2");
  inner.append("g").selectAll("circle").data(o.data).join("circle")
    .attr("cx",d=>x(d[0])).attr("cy",d=>y(d[1])).attr("r",1.8).attr("fill","#000");
  g.append("rect").attr("x",o.left).attr("y",o.top).attr("width",o.right-o.left).attr("height",o.bottom-o.top)
    .attr("fill","none").attr("stroke","#888").attr("stroke-width",0.8);
  // minor ticks
  g.append("g").attr("transform",`translate(0,${o.bottom})`)
    .call(d3.axisBottom(x).tickValues(minorEF).tickFormat("").tickSize(1.6))
    .call(a=>{a.select(".domain").remove();a.selectAll("line").attr("stroke","#555");});
  g.append("g").attr("transform",`translate(${o.left},0)`)
    .call(d3.axisLeft(y).tickValues(minorEF).tickFormat("").tickSize(1.6))
    .call(a=>{a.select(".domain").remove();a.selectAll("line").attr("stroke","#555");});
  const ax = g.append("g").attr("transform",`translate(0,${o.bottom})`)
    .call(d3.axisBottom(x).tickValues(tickEF_x).tickFormat((d,i)=>labelEF_x[i]).tickSize(3).tickPadding(3));
  const ay = g.append("g").attr("transform",`translate(${o.left},0)`)
    .call(d3.axisLeft(y).tickValues(tickEF_y).tickFormat((d,i)=>labelEF_y[i]).tickSize(3).tickPadding(3));
  [ax,ay].forEach(a=>{
    a.select(".domain").attr("stroke","#444").attr("stroke-width",0.8);
    a.selectAll(".tick line").attr("stroke","#444");
    a.selectAll("text").attr("font-size","6.5px").attr("fill","#333").attr("font-family","Liberation Sans, Arial, sans-serif");
  });
  g.append("text").attr("x",(o.left+o.right)/2).attr("y",o.bottom+25).attr("text-anchor","middle").attr("font-size","8.5px").attr("fill","#222").text(o.xTitle);
  g.append("text").attr("transform",`translate(${o.left-24},${(o.top+o.bottom)/2}) rotate(-90)`).attr("text-anchor","middle").attr("font-size","8.5px").attr("fill","#222").text(o.yTitle);
  g.append("text").attr("x",o.left-48).attr("y",o.top+55).attr("text-anchor","middle").attr("font-size","16px").attr("font-weight","bold").text(o.letter);
}

splotPanel({letter:"E",left:262,right:508,top:572,bottom:818,xDomain:[-0.625,0.63],yDomain:[-0.651,0.645],data:ePoints,boxes:eBoxes,
  xTitle:"OPLS healthy individuals vs. ES/NSCLC patients",yTitle:"OPLS healthy individuals vs. AS/NSCLC patients"});
splotPanel({letter:"F",left:262,right:508,top:864,bottom:1109,xDomain:[-0.625,0.63],yDomain:[-0.63,0.654],data:fPoints,boxes:fBoxes,
  xTitle:"OPLS healthy individuals vs. NSCLC patients",yTitle:"OPLS ES/NSCLC patients vs. AS/NSCLC patients"});
</script></body></html>
